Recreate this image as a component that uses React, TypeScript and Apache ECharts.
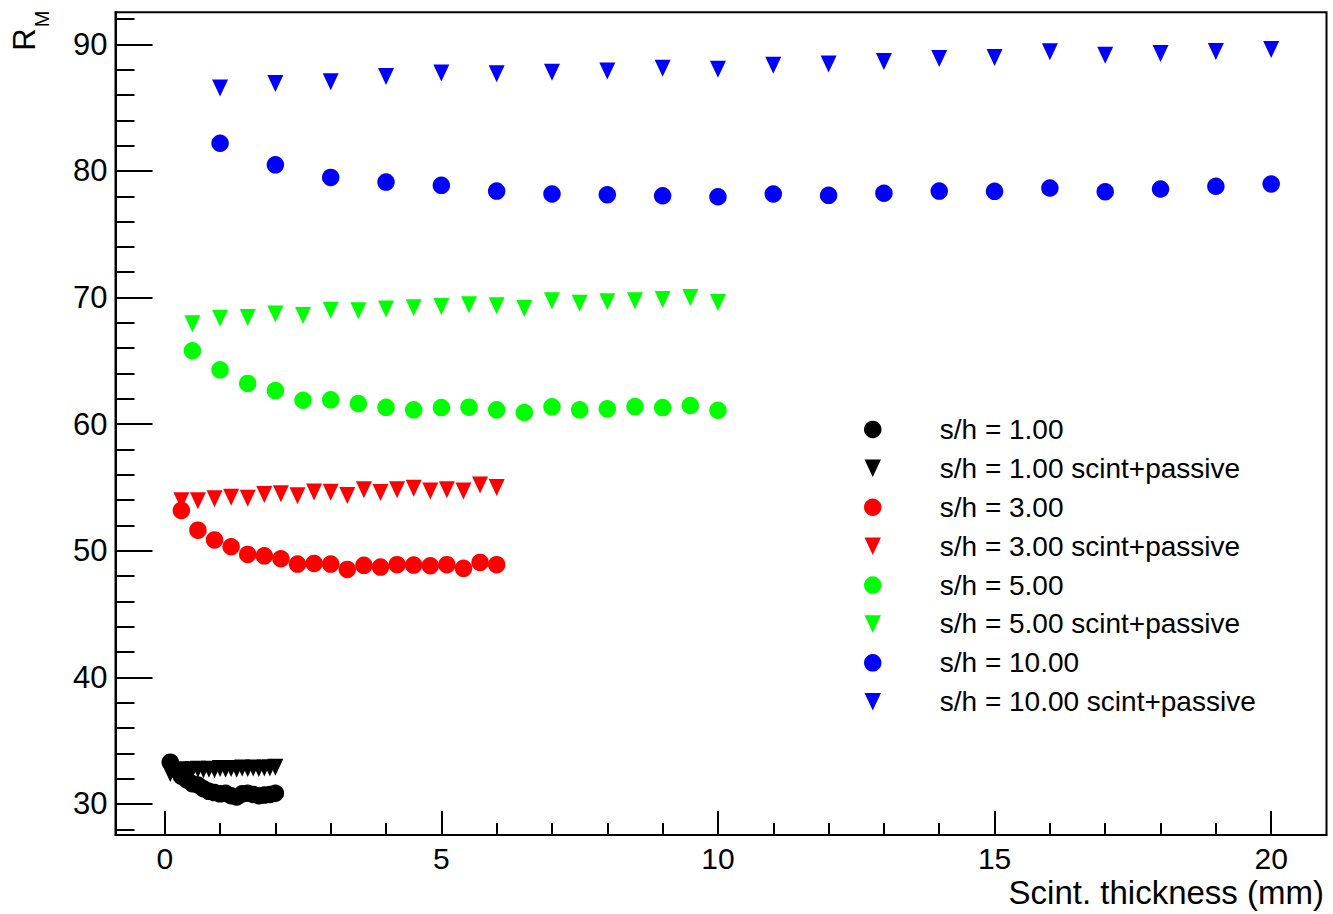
import React, { useEffect, useRef } from "react";
import * as echarts from "echarts";

const FONT = "'Liberation Sans', Arial, Helvetica, sans-serif";

// ---- data ----
const xBlack = [0.1, 0.2, 0.3, 0.4, 0.5, 0.6, 0.7, 0.8, 0.9, 1.0, 1.1, 1.2, 1.3, 1.4, 1.5, 1.6, 1.7, 1.8, 1.9, 2.0];
const yBlackCircle = [33.3, 32.7, 32.2, 31.9, 31.6, 31.5, 31.2, 31.0, 30.9, 30.8, 30.85, 30.65, 30.55, 30.8, 30.85, 30.75, 30.65, 30.7, 30.75, 30.85];
const yBlackTri = [32.4, 32.6, 32.7, 32.65, 32.7, 32.75, 32.7, 32.75, 32.7, 32.8, 32.75, 32.8, 32.75, 32.85, 32.8, 32.85, 32.8, 32.85, 32.85, 32.9];

const xRed = [0.3, 0.6, 0.9, 1.2, 1.5, 1.8, 2.1, 2.4, 2.7, 3.0, 3.3, 3.6, 3.9, 4.2, 4.5, 4.8, 5.1, 5.4, 5.7, 6.0];
const yRedCircle = [53.19, 51.63, 50.86, 50.32, 49.71, 49.6, 49.37, 48.95, 49.0, 48.95, 48.53, 48.85, 48.71, 48.9, 48.87, 48.82, 48.9, 48.61, 49.08, 48.9];
const yRedTri = [53.95, 53.95, 54.11, 54.23, 54.15, 54.45, 54.5, 54.35, 54.64, 54.62, 54.37, 54.82, 54.6, 54.82, 54.94, 54.72, 54.81, 54.73, 55.2, 54.99];

const xGreen = [0.5, 1.0, 1.5, 2.0, 2.5, 3.0, 3.5, 4.0, 4.5, 5.0, 5.5, 6.0, 6.5, 7.0, 7.5, 8.0, 8.5, 9.0, 9.5, 10.0];
const yGreenCircle = [65.8, 64.29, 63.22, 62.65, 61.89, 61.92, 61.63, 61.33, 61.13, 61.31, 61.34, 61.13, 60.92, 61.37, 61.13, 61.21, 61.39, 61.31, 61.47, 61.1];
const yGreenTri = [67.93, 68.37, 68.43, 68.7, 68.58, 68.99, 68.96, 69.09, 69.2, 69.29, 69.43, 69.35, 69.13, 69.74, 69.54, 69.67, 69.74, 69.84, 70.01, 69.6];

const xBlue = [1, 2, 3, 4, 5, 6, 7, 8, 9, 10, 11, 12, 13, 14, 15, 16, 17, 18, 19, 20];
const yBlueCircle = [82.19, 80.48, 79.49, 79.12, 78.86, 78.41, 78.18, 78.12, 78.04, 77.96, 78.18, 78.07, 78.24, 78.41, 78.39, 78.65, 78.36, 78.57, 78.79, 78.97];
const yBlueTri = [86.55, 86.9, 87.04, 87.46, 87.73, 87.67, 87.8, 87.9, 88.11, 88.03, 88.34, 88.44, 88.64, 88.88, 88.96, 89.41, 89.14, 89.27, 89.43, 89.59];

const seriesNames = [
  "s/h = 1.00",
  "s/h = 1.00 scint+passive",
  "s/h = 3.00",
  "s/h = 3.00 scint+passive",
  "s/h = 5.00",
  "s/h = 5.00 scint+passive",
  "s/h = 10.00",
  "s/h = 10.00 scint+passive",
];

const xMajorTicks = [0, 5, 10, 15, 20];
const xMinorTicks = [1, 2, 3, 4, 6, 7, 8, 9, 11, 12, 13, 14, 16, 17, 18, 19];
const yMajorTicks = [30, 40, 50, 60, 70, 80, 90];
const yMinorTicks = [28, 32, 34, 36, 38, 42, 44, 46, 48, 52, 54, 56, 58, 62, 64, 66, 68, 72, 74, 76, 78, 82, 84, 86, 88, 92];

const X_MIN = -0.89;
const X_MAX = 21.0;
const Y_MIN = 27.55;
const Y_MAX = 92.53;

const TRI = "path://M0,0L16,0L8,17Z";

const zip = (xs: number[], ys: number[]) => xs.map((x, i) => [x, ys[i]]);

export default function App() {
  const ref = useRef<HTMLDivElement>(null);
  useEffect(() => {
    if (!ref.current) return;
    const chart = echarts.init(ref.current, undefined, { renderer: "svg" });

    const mk = (name: string, xs: number[], ys: number[], color: string, tri: boolean) => ({
      name,
      type: "scatter",
      data: zip(xs, ys),
      symbol: tri ? TRI : "circle",
      symbolSize: tri ? [16, 17] : 17.5,
      itemStyle: { color, opacity: 1 },
      xAxisIndex: 0,
      yAxisIndex: 0,
      emphasis: { disabled: true },
    });

    // triangles first (drawn underneath), circles after
    const series = [
      mk(seriesNames[1], xBlack, yBlackTri, "#000000", true),
      mk(seriesNames[0], xBlack, yBlackCircle, "#000000", false),
      mk(seriesNames[3], xRed, yRedTri, "#ff0000", true),
      mk(seriesNames[2], xRed, yRedCircle, "#ff0000", false),
      mk(seriesNames[5], xGreen, yGreenTri, "#00ff00", true),
      mk(seriesNames[4], xGreen, yGreenCircle, "#00ff00", false),
      mk(seriesNames[7], xBlue, yBlueTri, "#0000ff", true),
      mk(seriesNames[6], xBlue, yBlueCircle, "#0000ff", false),
    ];

    const lineOn = { show: true, onZero: false, lineStyle: { color: "#000", width: 2 } };
    const lineOff = { show: false, onZero: false };

    chart.setOption({
      animation: false,
      backgroundColor: "#ffffff",
      grid: {
        left: 115.5,
        top: 12.3,
        right: 6.5,
        bottom: 79,
        show: true,
        borderColor: "#000",
        borderWidth: 2,
        backgroundColor: "transparent",
      },
      xAxis: [
        {
          type: "value",
          position: "bottom",
          min: X_MIN,
          max: X_MAX,
          splitLine: { show: false },
          axisLine: lineOn,
          axisTick: { show: true, inside: true, length: 24, lineStyle: { color: "#000", width: 2 }, customValues: xMajorTicks },
          axisLabel: {
            show: true,
            customValues: xMajorTicks,
            margin: 8,
            color: "#000",
            fontSize: 30,
            fontFamily: FONT,
          },
        },
        {
          type: "value",
          position: "bottom",
          offset: 0,
          min: X_MIN,
          max: X_MAX,
          splitLine: { show: false },
          axisLine: lineOff,
          axisTick: { show: true, inside: true, length: 12, lineStyle: { color: "#000", width: 2 }, customValues: xMinorTicks },
          axisLabel: { show: false },
        },
      ],
      yAxis: [
        {
          type: "value",
          position: "left",
          min: Y_MIN,
          max: Y_MAX,
          splitLine: { show: false },
          axisLine: lineOn,
          axisTick: { show: true, inside: true, length: 37, lineStyle: { color: "#000", width: 2 }, customValues: yMajorTicks },
          axisLabel: {
            show: true,
            customValues: yMajorTicks,
            margin: 8,
            color: "#000",
            fontSize: 31,
            fontFamily: FONT,
          },
        },
        {
          type: "value",
          position: "left",
          offset: 0,
          min: Y_MIN,
          max: Y_MAX,
          splitLine: { show: false },
          axisLine: lineOff,
          axisTick: { show: true, inside: true, length: 19, lineStyle: { color: "#000", width: 2 }, customValues: yMinorTicks },
          axisLabel: { show: false },
        },
      ],
      legend: {
        show: true,
        orient: "vertical",
        left: 864,
        top: 410,
        padding: 0,
        itemGap: 0,
        itemWidth: 124,
        itemHeight: 17.5,
        data: seriesNames,
        selectedMode: false,
        textStyle: {
          color: "#000",
          fontSize: 28,
          fontFamily: FONT,
          lineHeight: 38.9,
        },
      },
      graphic: [
        {
          type: "text",
          x: 1324,
          y: 892,
          style: {
            text: "Scint. thickness (mm)",
            fontSize: 33,
            fontFamily: FONT,
            fill: "#000",
            align: "right",
            verticalAlign: "middle",
          },
        },
        {
          type: "text",
          x: 24,
          y: 39.5,
          rotation: Math.PI / 2,
          style: {
            text: "R",
            fontSize: 31,
            fontFamily: FONT,
            fill: "#000",
            align: "center",
            verticalAlign: "middle",
          },
        },
        {
          type: "text",
          x: 42,
          y: 19,
          rotation: Math.PI / 2,
          style: {
            text: "M",
            fontSize: 20,
            fontFamily: FONT,
            fill: "#000",
            align: "center",
            verticalAlign: "middle",
          },
        },
      ],
      series,
    });

    return () => chart.dispose();
  }, []);

  return (
    <div
      ref={ref}
      style={{ position: "fixed", left: 0, top: 0, width: 1333, height: 914, background: "#fff" }}
    />
  );
}
